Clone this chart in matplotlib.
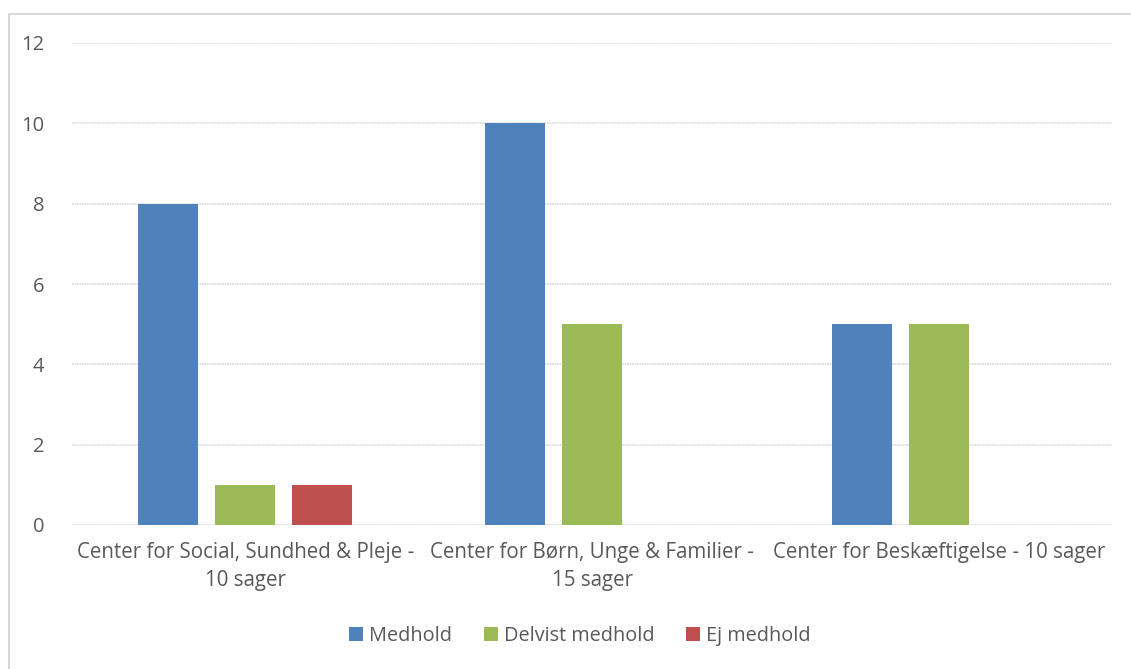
import matplotlib.pyplot as plt
from matplotlib.patches import Rectangle
import numpy as np

plt.rcParams['font.family'] = ['Open Sans', 'DejaVu Sans']

kategorier = ["Center for Social, Sundhed & Pleje -\n10 sager",
              "Center for Børn, Unge & Familier -\n15 sager",
              "Center for Beskæftigelse - 10 sager"]
medhold = [8, 10, 5]
delvist = [1, 5, 5]
ej = [1, 0, 0]
serier = ["Medhold", "Delvist medhold", "Ej medhold"]
farver = ["#4f81bd", "#9bbb59", "#c0504d"]
yticks = [0, 2, 4, 6, 8, 10, 12]

W, H = 1131, 669
fig = plt.figure(figsize=(W / 100, H / 100), dpi=100)
ax = fig.add_axes([72 / W, 1 - 525 / H, (1112 - 72) / W, (525 - 43) / H])

x = np.arange(len(kategorier))
bredde = 0.173
skridt = 0.222
for i, (vals, navn) in enumerate(zip([medhold, delvist, ej], serier)):
    ax.bar(x + (i - 1) * skridt, vals, bredde, color=farver[i], label=navn, zorder=3)

ax.set_xlim(-0.5, 2.5)
ax.set_ylim(0, 12)
ax.set_yticks(yticks)
ax.set_xticks(x)
ax.set_xticklabels(kategorier, fontsize=14.8, color="#595959", linespacing=1.45)
ax.tick_params(axis='y', labelsize=14.5, labelcolor="#595959", length=0, pad=20)
ax.tick_params(axis='x', length=0, pad=12)
ax.grid(axis='y', color="#d9d9d9", lw=1.2, linestyle=(0, (1, 0.5)), zorder=0)
for s in ax.spines.values():
    s.set_visible(False)

leg = fig.legend(loc='center', bbox_to_anchor=(580 / W, 1 - 636 / H), ncol=3,
                 frameon=False, fontsize=14.3, handlelength=0.7, handleheight=0.7,
                 handletextpad=0.3, columnspacing=1.6)
for t in leg.get_texts():
    t.set_color("#595959")

fig.patches.append(Rectangle((9 / W, -0.1), 1.2, 1 - 14 / H + 0.1, transform=fig.transFigure,
                             fill=False, edgecolor="#d9d9d9", lw=1.5))

fig.savefig("out.png", dpi=100)
